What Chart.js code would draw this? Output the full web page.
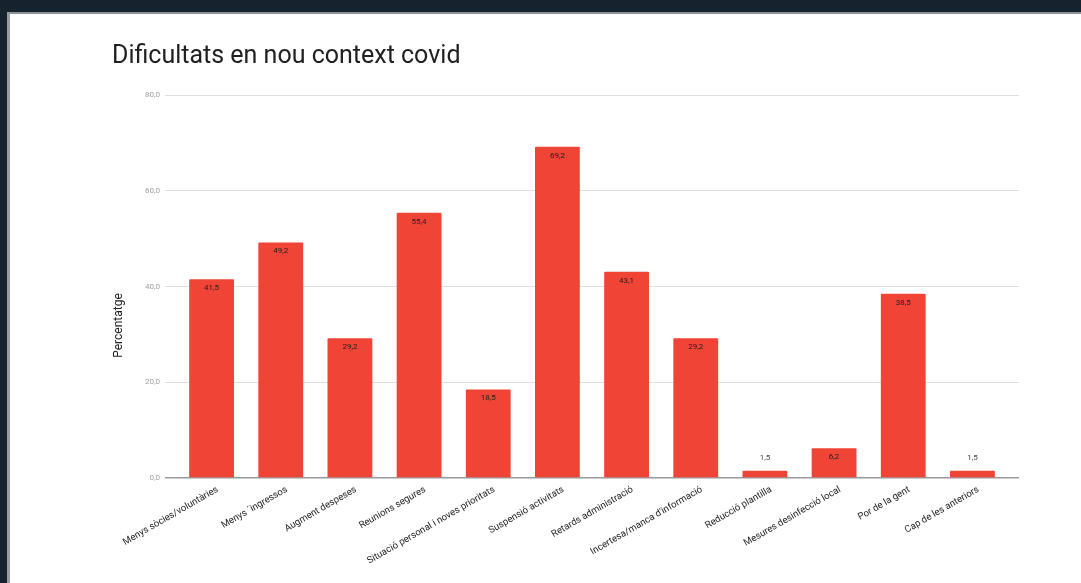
<!DOCTYPE html>
<html>
<head>
<meta charset="utf-8">
<script src="https://cdn.jsdelivr.net/npm/chart.js@4"></script>
<style>
html,body{margin:0;padding:0;width:1081px;height:583px;overflow:hidden;background:#16232e;}
#frame{position:absolute;left:7px;top:12px;right:0;bottom:0;background:#fff;border-top:2px solid #8e9196;border-left:3px solid #9a9ca0;}
#wrap{position:absolute;left:0;top:0;width:1081px;height:583px;}
</style>
</head>
<body>
<div id="frame"></div>
<div id="wrap"><canvas id="c" width="1081" height="583"></canvas></div>
<script>
const categories = ["Menys sòcies/voluntàries","Menys ´ingressos","Augment despeses","Reunions segures","Situació personal i noves prioritats","Suspensió activitats","Retards administració","Incertesa/manca d'informació","Reducció plantilla","Mesures desinfecció local","Por de la gent","Cap de les anteriors"];
const values = [41.5, 49.2, 29.2, 55.4, 18.5, 69.2, 43.1, 29.2, 1.5, 6.2, 38.5, 1.5];
const yTicks = [0, 20, 40, 60, 80];
const titleText = "Dificultats en nou context covid";
const yTitle = "Percentatge";

const fmt = v => Number(v).toFixed(1).replace('.', ',');
const gridColor = ctx => (ctx.tick && ctx.tick.value === 0) ? '#9a9a9a' : '#e0e0e0';
const gridWidth = ctx => (ctx.tick && ctx.tick.value === 0) ? 1.5 : 1;

const valueLabels = {
  id: 'valueLabels',
  afterDatasetsDraw(chart) {
    const ctx = chart.ctx;
    const meta = chart.getDatasetMeta(0);
    ctx.save();
    ctx.font = '8px Roboto';
    ctx.textAlign = 'center';
    ctx.textBaseline = 'middle';
    meta.data.forEach((bar, i) => {
      const h = bar.base - bar.y;
      if (h > 16) {
        ctx.fillStyle = '#1f1f1f';
        ctx.fillText(fmt(values[i]), bar.x, bar.y + 9);
      } else {
        ctx.fillStyle = '#444';
        ctx.fillText(fmt(values[i]), bar.x, bar.y - 13);
      }
    });
    ctx.restore();
  }
};

const yTitlePlugin = {
  id: 'yTitlePlugin',
  afterDraw(chart) {
    const ctx = chart.ctx;
    ctx.save();
    ctx.translate(118.5, 325.5);
    ctx.rotate(-Math.PI / 2);
    ctx.font = '12px Roboto';
    ctx.fillStyle = '#202020';
    ctx.textAlign = 'center';
    ctx.textBaseline = 'middle';
    ctx.fillText(yTitle, 0, 0);
    ctx.restore();
  }
};

new Chart(document.getElementById('c'), {
  type: 'bar',
  data: {
    labels: categories,
    datasets: [{
      data: values,
      backgroundColor: '#f04436',
      borderRadius: 1,
      barPercentage: 0.9,
      categoryPercentage: 0.72
    }]
  },
  plugins: [valueLabels, yTitlePlugin],
  options: {
    responsive: false,
    animation: false,
    devicePixelRatio: 1,
    layout: { padding: { left: 112, right: 62, top: 0, bottom: 0 } },
    plugins: {
      legend: { display: false },
      tooltip: { enabled: false },
      title: {
        display: true,
        text: titleText,
        align: 'start',
        color: '#202020',
        font: { family: 'Roboto', size: 25, weight: 'normal' },
        padding: { top: 42, bottom: 23 }
      }
    },
    scales: {
      x: {
        grid: { display: false, drawTicks: false },
        border: { display: false },
        ticks: {
          autoSkip: false,
          minRotation: 30,
          maxRotation: 30,
          padding: 6,
          labelOffset: 6,
          color: '#222',
          font: { family: 'Roboto', size: 9.5 }
        },
        afterFit(scale) { scale.height = 105; }
      },
      y: {
        position: 'left',
        min: 0, max: 80,
        afterBuildTicks(scale) { scale.ticks = yTicks.map(v => ({ value: v })); },
        grid: { color: gridColor, lineWidth: gridWidth, tickLength: 12, drawTicks: true },
        border: { display: false },
        ticks: {
          padding: 5,
          color: '#a0a0a0',
          font: { family: 'Roboto', size: 8 },
          callback: v => fmt(v)
        },
        afterFit(scale) { scale.width = 65; }
      },
      yRight: {
        position: 'right',
        min: 0, max: 80,
        afterBuildTicks(scale) { scale.ticks = yTicks.map(v => ({ value: v })); },
        grid: { color: gridColor, lineWidth: gridWidth, tickLength: 12, drawTicks: true, drawOnChartArea: false },
        border: { display: false },
        ticks: { display: false },
        afterFit(scale) { scale.width = 12; }
      }
    }
  }
});
</script>
</body>
</html>
